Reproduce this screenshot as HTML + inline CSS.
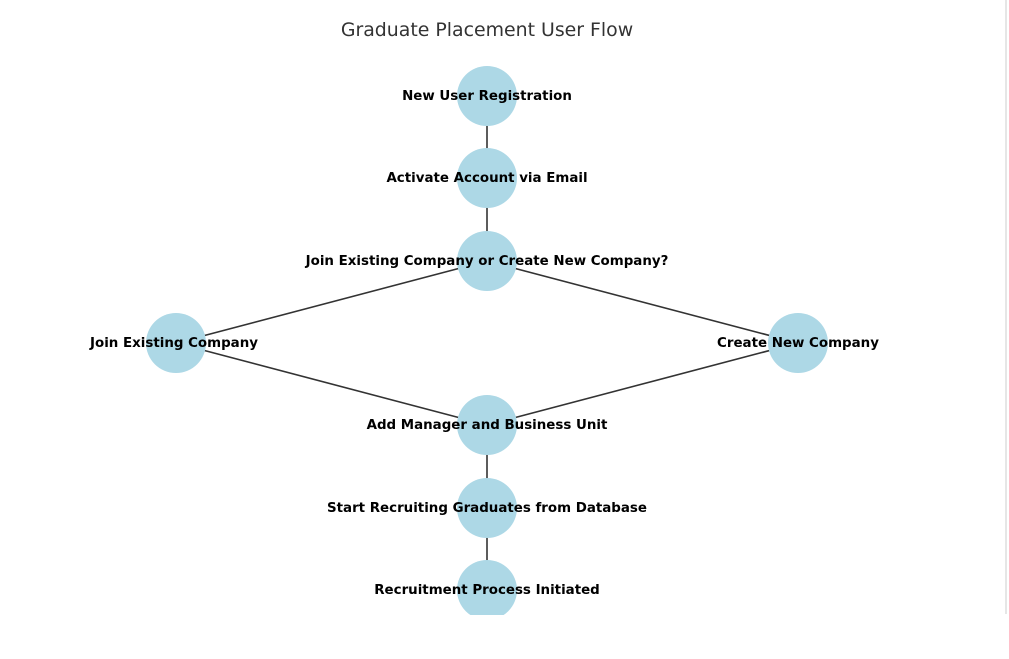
<!DOCTYPE html>
<html><head><meta charset="utf-8"><style>
html,body{margin:0;padding:0;background:#fff;width:1009px;height:659px;overflow:hidden}
</style></head><body>
<svg width="1009" height="659" xmlns="http://www.w3.org/2000/svg" style="position:absolute;left:0;top:0">
<rect x="1005" y="0" width="2" height="614" fill="#e6e6e6"/>
<text x="487" y="36" font-family="DejaVu Sans, sans-serif" font-size="18.9" fill="#333" text-anchor="middle">Graduate Placement User Flow</text>
<svg x="0" y="0" width="1009" height="615">
<g stroke="#333" stroke-width="1.6">
<line x1="487" y1="96" x2="487" y2="261"/>
<line x1="487" y1="261" x2="176" y2="343"/>
<line x1="487" y1="261" x2="798" y2="343"/>
<line x1="176" y1="343" x2="487" y2="425"/>
<line x1="798" y1="343" x2="487" y2="425"/>
<line x1="487" y1="425" x2="487" y2="590"/>
</g>
<g fill="#add8e6">
<circle cx="487" cy="96" r="30"/>
<circle cx="487" cy="178" r="30"/>
<circle cx="487" cy="261" r="30"/>
<circle cx="176" cy="343" r="30"/>
<circle cx="798" cy="343" r="30"/>
<circle cx="487" cy="425" r="30"/>
<circle cx="487" cy="508" r="30"/>
<circle cx="487" cy="590" r="30"/>
</g>
<g font-family="DejaVu Sans, sans-serif" font-size="13.4" font-weight="bold" fill="#000" text-anchor="middle">
<text x="487" y="100">New User Registration</text>
<text x="487" y="182">Activate Account via Email</text>
<text x="487" y="265">Join Existing Company or Create New Company?</text>
<text x="174" y="347">Join Existing Company</text>
<text x="798" y="347">Create New Company</text>
<text x="487" y="429">Add Manager and Business Unit</text>
<text x="487" y="512">Start Recruiting Graduates from Database</text>
<text x="487" y="594">Recruitment Process Initiated</text>
</g>
</svg>
</svg>
</body></html>
